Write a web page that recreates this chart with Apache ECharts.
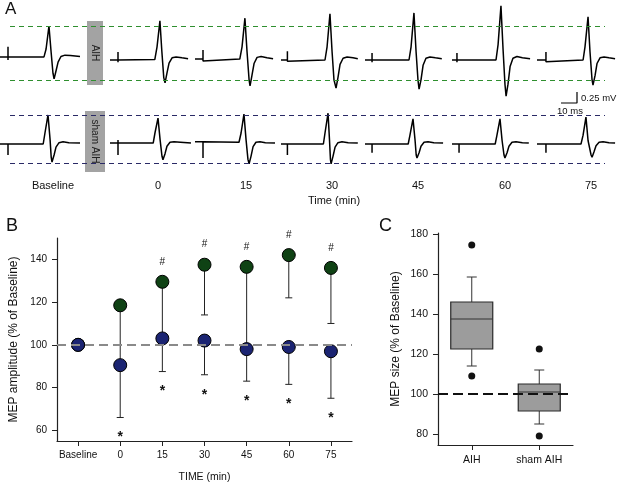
<!DOCTYPE html>
<html><head><meta charset="utf-8">
<script src="https://cdn.jsdelivr.net/npm/echarts@6/dist/echarts.min.js"></script>
<style>html,body{margin:0;padding:0;background:#fff}#c{width:617px;height:484px}</style>
</head><body><div id="c"></div>
<script>
// ---------- DATA ----------
const timeLabels = ['Baseline', '0', '15', '30', '45', '60', '75'];

// Panel A: MEP traces, points are [ms from trace start, mV]
const aihTraces = [
  [[0,0.07],[5,0.07],[5,0.30],[5,0.0],[5,0.07],[27.5,0.07],[28.8,0.25],[30.6,0.77],[31.9,0.2],[33.1,-0.3],[33.8,-0.43],[35,-0.25],[36.3,-0.05],[38.1,0.08],[40.6,0.11],[44,0.1],[50,0.08]],
  [[0,0],[5,0],[5,0.18],[5,-0.05],[5,0],[28,0.01],[29.4,0.3],[31.2,0.89],[32.4,0.2],[33.6,-0.4],[34.4,-0.52],[35.6,-0.3],[36.9,-0.07],[38.8,0.05],[41.3,0.07],[45,0.05],[48.8,0.03]],
  [[0,0.02],[5,0.02],[5,0.23],[5,-0.02],[5,0.02],[28,0.02],[29.4,0.3],[31.2,0.95],[32.5,0.2],[33.8,-0.45],[34.4,-0.59],[35.6,-0.35],[36.9,-0.08],[38.8,0.06],[41.3,0.08],[45,0.05],[48.8,0.03]],
  [[0,0],[4,0],[4,0.2],[4,-0.03],[4,0],[27.5,0],[28.8,0.3],[30.6,1.05],[31.9,0.2],[33.1,-0.45],[34.4,-0.64],[35.6,-0.4],[36.9,-0.1],[38.8,0.04],[41.3,0.07],[45,0.05],[48,0.03]],
  [[0,0],[4.4,0],[4.4,0.16],[4.4,-0.05],[4.4,0],[27.5,0],[28.8,0.3],[30.6,1.07],[31.9,0.2],[33.1,-0.45],[33.8,-0.66],[35,-0.45],[36.3,-0.12],[38.1,0.04],[40.6,0.07],[44,0.05],[48,0.03]],
  [[0,0],[3.1,0],[3.1,0.16],[3.1,-0.05],[3.1,0],[27.5,0],[28.8,0.35],[30.6,1.23],[31.9,0.25],[33.1,-0.55],[33.8,-0.82],[35,-0.55],[36.3,-0.15],[38.1,0.04],[40.6,0.08],[44,0.05],[48.8,0.03]],
  [[0,0],[5.6,0],[5.6,0.18],[5.6,-0.04],[5.6,0],[28.8,0],[30,0.3],[31.9,0.98],[33.1,0.2],[34.4,-0.45],[35,-0.57],[36.3,-0.35],[37.5,-0.08],[39.4,0.05],[41.9,0.07],[45,0.05],[48.8,0.03]]
];
const shamTraces = [
  [[0,0],[5,0],[5,0.04],[5,-0.25],[5,0],[27,0],[28.1,0.25],[30,0.66],[31.3,0.1],[32,-0.3],[32.5,-0.41],[33.8,-0.25],[35,-0.07],[36.9,0.03],[39.4,0.05],[43,0.03],[50,0.02]],
  [[0,0.02],[5,0.02],[5,0.09],[5,-0.25],[5,0.02],[27,0.02],[28.1,0.25],[30,0.59],[31.3,0.1],[32.5,-0.28],[33.1,-0.36],[34.4,-0.22],[35.6,-0.05],[37.5,0.04],[40,0.05],[44,0.04],[50.6,0.02]],
  [[0,0.05],[5,0.05],[5,0.05],[5,-0.32],[5,0.05],[27.5,0.04],[28.8,0.25],[30.6,0.68],[31.9,0.1],[33.1,-0.35],[33.8,-0.45],[35,-0.28],[36.3,-0.06],[38.1,0.04],[40.6,0.05],[44,0.03],[50,0.02]],
  [[0,0],[4,0],[4,-0.25],[4,0],[26.5,0],[27.5,0.25],[29.4,0.70],[30.3,0.1],[30.9,-0.35],[31.3,-0.45],[32.5,-0.28],[33.8,-0.07],[35.6,0.03],[38.1,0.05],[42,0.03],[48,0.02]],
  [[0,0],[4.4,0],[4.4,0.04],[4.4,-0.2],[4.4,0],[27,0],[28.1,0.2],[30,0.57],[31.3,0.08],[32,-0.25],[32.5,-0.32],[33.8,-0.2],[35,-0.05],[36.9,0.04],[39.4,0.05],[43,0.03],[48.8,0.02]],
  [[0,0],[4.4,0],[4.4,0.04],[4.4,-0.2],[4.4,0],[27,0],[28.1,0.2],[30,0.57],[31.3,0.08],[32.5,-0.25],[33.1,-0.32],[34.4,-0.2],[35.6,-0.05],[37.5,0.04],[40,0.05],[44,0.03],[48,0.02]],
  [[0,0],[5.6,0],[5.6,0.04],[5.6,-0.2],[5.6,0],[27.5,0],[28.8,0.2],[30.6,0.61],[31.9,0.08],[33.8,-0.25],[34.4,-0.30],[35.6,-0.18],[36.9,-0.04],[38.8,0.04],[41.3,0.05],[45,0.03],[48.8,0.02]]
];
const aihRefMv = [0.77, -0.45];
const shamRefMv = [0.66, -0.43];
const scaleBarMs = 10;
const scaleBarMv = 0.25;

// Panel B: MEP amplitude (% of baseline), mean and lower error
const bCategories = timeLabels;
const aihMean = [100, 118.5, 129.5, 137.5, 136.5, 142, 136];
const aihLower = [100, 92, 104, 114, 99, 122, 110];
const shamMean = [100, 90.5, 103, 102, 98, 99, 97];
const shamLower = [100, 66, 87.5, 86, 83, 81.5, 75];
const aihMarks = ['', '', '#', '#', '#', '#', '#'];
const shamMarks = ['', '*', '*', '*', '*', '*', '*'];
const bTicks = [60, 80, 100, 120, 140];

// Panel C: MEP size box plots [lowWhisker, Q1, median, Q3, highWhisker]
const cCategories = ['AIH', 'sham AIH'];
const cBoxes = [[114, 122.5, 137.5, 146, 158.5], [85, 91.5, 101, 105, 112]];
const cOutliers = [[174.5, 109], [122.5, 79]];
const cTicks = [80, 100, 120, 140, 160, 180];

// ---------- LAYOUT ----------
const FONT = "'Liberation Sans', Arial, sans-serif";
const PX_PER_MS = 1.6;
const traceStartPx = [0, 110, 195, 281, 365, 452, 537];
const labelXPx = [53, 158, 246, 332, 418, 505, 591];
const refStartMs = 10 / PX_PER_MS, refEndMs = 605 / PX_PER_MS;
const barAnchorMs = 577 / PX_PER_MS, barAnchorMv = (60 - 103) / 44;

const chart = echarts.init(document.getElementById('c'), null, {renderer: 'canvas'});

const series = [];
function traceSeries(traces, idx) {
  traces.forEach((tr, i) => {
    const off = traceStartPx[i] / PX_PER_MS;
    series.push({
      type: 'line', xAxisIndex: idx, yAxisIndex: idx, clip: false, silent: true,
      symbol: 'none', lineStyle: {color: '#000', width: 1.5},
      data: tr.map(p => [p[0] + off, p[1]])
    });
  });
}
traceSeries(aihTraces, 0);
traceSeries(shamTraces, 1);

function refSeries(vals, idx, color) {
  series.push({
    type: 'line', xAxisIndex: idx, yAxisIndex: idx, data: [], silent: true,
    markLine: {
      silent: true, symbol: 'none', label: {show: false},
      lineStyle: {color: color, type: [5, 4], width: 1.2},
      data: vals.map(v => [{coord: [refStartMs, v]}, {coord: [refEndMs, v]}])
    }
  });
}
refSeries(aihRefMv, 0, '#2f8f2f');
refSeries(shamRefMv, 1, '#2a2a66');

// scale bar
series.push({
  type: 'line', xAxisIndex: 0, yAxisIndex: 0, clip: false, silent: true, symbol: 'none',
  lineStyle: {color: '#000', width: 1.2},
  data: [[barAnchorMs - scaleBarMs, barAnchorMv], [barAnchorMs, barAnchorMv], [barAnchorMs, barAnchorMv + scaleBarMv]]
});

// Panel B
function errSeries(mean, low) {
  return {
    type: 'custom', xAxisIndex: 2, yAxisIndex: 2, silent: true, z: 2,
    data: mean.map((m, i) => [i, m, low[i]]),
    renderItem: (params, api) => {
      const p1 = api.coord([api.value(0), api.value(1)]);
      const p2 = api.coord([api.value(0), api.value(2)]);
      return {type: 'group', children: [
        {type: 'line', shape: {x1: p1[0], y1: p1[1], x2: p2[0], y2: p2[1]}, style: {stroke: '#222', lineWidth: 1}},
        {type: 'line', shape: {x1: p2[0] - 3.5, y1: p2[1], x2: p2[0] + 3.5, y2: p2[1]}, style: {stroke: '#222', lineWidth: 1}}
      ]};
    }
  };
}
const eA = errSeries(aihMean, aihLower);
eA.markLine = {
  silent: true, symbol: 'none', label: {show: false},
  lineStyle: {color: '#8a8a8a', type: [9, 5], width: 2},
  data: [{yAxis: 100}]
};
series.push(eA);
series.push(errSeries(shamMean, shamLower));
series.push({
  type: 'scatter', xAxisIndex: 2, yAxisIndex: 2, symbolSize: 13, z: 3, silent: true,
  itemStyle: {color: '#0f4214', borderColor: '#000', borderWidth: 1, opacity: 1},
  data: aihMean.map((v, i) => [i, v])
});
series.push({
  type: 'scatter', xAxisIndex: 2, yAxisIndex: 2, symbolSize: 13, z: 4, silent: true,
  itemStyle: {color: '#1b2472', borderColor: '#000', borderWidth: 1, opacity: 1},
  data: shamMean.map((v, i) => [i, v])
});
function markSeries(vals, marks, dy, size, weight) {
  return {
    type: 'custom', xAxisIndex: 2, yAxisIndex: 2, silent: true, z: 5,
    data: vals.map((v, i) => [i, v]),
    renderItem: (params, api) => {
      const s = marks[params.dataIndex];
      if (!s) return null;
      const p = api.coord([api.value(0), api.value(1)]);
      return {type: 'text', x: p[0], y: p[1] + dy,
        style: {text: s, align: 'center', verticalAlign: 'middle', fontSize: size, fontWeight: weight, fontFamily: FONT, fill: '#111'}};
    }
  };
}
series.push(markSeries(aihMean, aihMarks, -20, 10, 'normal'));
series.push(markSeries(shamLower, shamMarks, 20, 14, 'bold'));

// Panel C
series.push({
  type: 'custom', xAxisIndex: 3, yAxisIndex: 3, silent: true, z: 2,
  data: cBoxes.map((b, i) => [i].concat(b)),
  renderItem: (params, api) => {
    const x = api.value(0);
    const c = [1, 2, 3, 4, 5].map(d => api.coord([x, api.value(d)]));
    const cx = c[0][0], bw = 42, cw = 10;
    const st = {stroke: '#333', lineWidth: 1};
    return {type: 'group', children: [
      {type: 'line', shape: {x1: cx, y1: c[4][1], x2: cx, y2: c[3][1]}, style: st},
      {type: 'line', shape: {x1: cx, y1: c[1][1], x2: cx, y2: c[0][1]}, style: st},
      {type: 'line', shape: {x1: cx - cw / 2, y1: c[4][1], x2: cx + cw / 2, y2: c[4][1]}, style: st},
      {type: 'line', shape: {x1: cx - cw / 2, y1: c[0][1], x2: cx + cw / 2, y2: c[0][1]}, style: st},
      {type: 'rect', shape: {x: cx - bw / 2, y: c[3][1], width: bw, height: c[1][1] - c[3][1]}, style: {fill: '#9c9c9c', stroke: '#2a2a2a', lineWidth: 1.2}},
      {type: 'line', shape: {x1: cx - bw / 2, y1: c[2][1], x2: cx + bw / 2, y2: c[2][1]}, style: {stroke: '#333', lineWidth: 1.2}}
    ]};
  },
  markLine: {
    silent: true, symbol: 'none', label: {show: false}, z: 10,
    lineStyle: {color: '#111', type: [10, 5], width: 1.8},
    data: [{yAxis: 100}]
  }
});
const outData = [];
cOutliers.forEach((arr, i) => arr.forEach(v => outData.push([i, v])));
series.push({
  type: 'scatter', xAxisIndex: 3, yAxisIndex: 3, symbolSize: 7, z: 4, silent: true,
  itemStyle: {color: '#111', opacity: 1}, data: outData
});

const axisLineStyle = {show: true, lineStyle: {color: '#222', width: 1.2}};

const graphic = [
  {type: 'text', x: 5, y: 9, style: {text: 'A', fontSize: 17, fontFamily: FONT, fill: '#111', verticalAlign: 'middle'}},
  {type: 'rect', shape: {x: 87, y: 21, width: 16, height: 64}, style: {fill: '#a3a3a3'}, z: -1},
  {type: 'text', x: 95, y: 53, rotation: -Math.PI / 2, style: {text: 'AIH', fontSize: 10, fontFamily: FONT, fill: '#222', align: 'center', verticalAlign: 'middle'}},
  {type: 'rect', shape: {x: 85, y: 111, width: 20, height: 61}, style: {fill: '#a3a3a3'}, z: -1},
  {type: 'text', x: 95, y: 141.5, rotation: -Math.PI / 2, style: {text: 'sham AIH', fontSize: 10, fontFamily: FONT, fill: '#222', align: 'center', verticalAlign: 'middle'}},
  {type: 'text', x: 334, y: 201, style: {text: 'Time (min)', fontSize: 11, fontFamily: FONT, fill: '#111', align: 'center', verticalAlign: 'middle'}},
  {type: 'text', x: 581, y: 98, style: {text: scaleBarMv + ' mV', fontSize: 9.5, fontFamily: FONT, fill: '#111', verticalAlign: 'middle'}},
  {type: 'text', x: 570, y: 111, style: {text: scaleBarMs + ' ms', fontSize: 9.5, fontFamily: FONT, fill: '#111', align: 'center', verticalAlign: 'middle'}},
  {type: 'text', x: 6, y: 226, style: {text: 'B', fontSize: 18, fontFamily: FONT, fill: '#111', verticalAlign: 'middle'}},
  {type: 'text', x: 379, y: 226, style: {text: 'C', fontSize: 18, fontFamily: FONT, fill: '#111', verticalAlign: 'middle'}}
].concat(timeLabels.map((t, i) => ({
  type: 'text', x: labelXPx[i], y: 186,
  style: {text: t, fontSize: 11, fontFamily: FONT, fill: '#111', align: 'center', verticalAlign: 'middle'}
})));

chart.setOption({
  animation: false,
  backgroundColor: '#fff',
  textStyle: {fontFamily: FONT},
  grid: [
    {left: 0, top: 5, width: 617, height: 110},
    {left: 0, top: 89, width: 617, height: 110},
    {left: 57, top: 238, width: 295, height: 207},
    {left: 438, top: 233, width: 135, height: 212}
  ],
  xAxis: [
    {gridIndex: 0, type: 'value', min: 0, max: 617 / PX_PER_MS, show: false},
    {gridIndex: 1, type: 'value', min: 0, max: 617 / PX_PER_MS, show: false},
    {
      gridIndex: 2, type: 'category', data: bCategories, boundaryGap: true,
      axisLine: axisLineStyle, splitLine: {show: false},
      axisTick: {show: true, alignWithLabel: true, length: 5, lineStyle: {color: '#222'}},
      axisLabel: {fontSize: 10, color: '#111', margin: 9, interval: 0},
      name: 'TIME (min)', nameLocation: 'middle', nameGap: 31,
      nameTextStyle: {fontSize: 10.5, color: '#111'}
    },
    {
      gridIndex: 3, type: 'category', data: cCategories, boundaryGap: true,
      axisLine: axisLineStyle, splitLine: {show: false},
      axisTick: {show: true, alignWithLabel: true, length: 5, lineStyle: {color: '#222'}},
      axisLabel: {fontSize: 10.5, color: '#111', margin: 10, interval: 0}
    }
  ],
  yAxis: [
    {gridIndex: 0, type: 'value', min: -1.25, max: 1.25, show: false},
    {gridIndex: 1, type: 'value', min: -1.25, max: 1.25, show: false},
    {
      gridIndex: 2, type: 'value', min: 55, max: 150,
      axisLine: axisLineStyle, splitLine: {show: false},
      axisTick: {show: true, length: 5, lineStyle: {color: '#222'}, customValues: bTicks},
      axisLabel: {fontSize: 10, color: '#111', margin: 10, customValues: bTicks},
      name: 'MEP amplitude (% of Baseline)', nameLocation: 'middle', nameGap: 37,
      nameTextStyle: {fontSize: 12, color: '#111'}
    },
    {
      gridIndex: 3, type: 'value', min: 74.5, max: 180.5,
      axisLine: axisLineStyle, splitLine: {show: false},
      axisTick: {show: true, length: 5, lineStyle: {color: '#222'}, customValues: cTicks},
      axisLabel: {fontSize: 10.5, color: '#111', margin: 10, customValues: cTicks},
      name: 'MEP size (% of Baseline)', nameLocation: 'middle', nameGap: 36,
      nameTextStyle: {fontSize: 12, color: '#111'}
    }
  ],
  graphic: graphic,
  series: series
});
</script>
</body></html>
